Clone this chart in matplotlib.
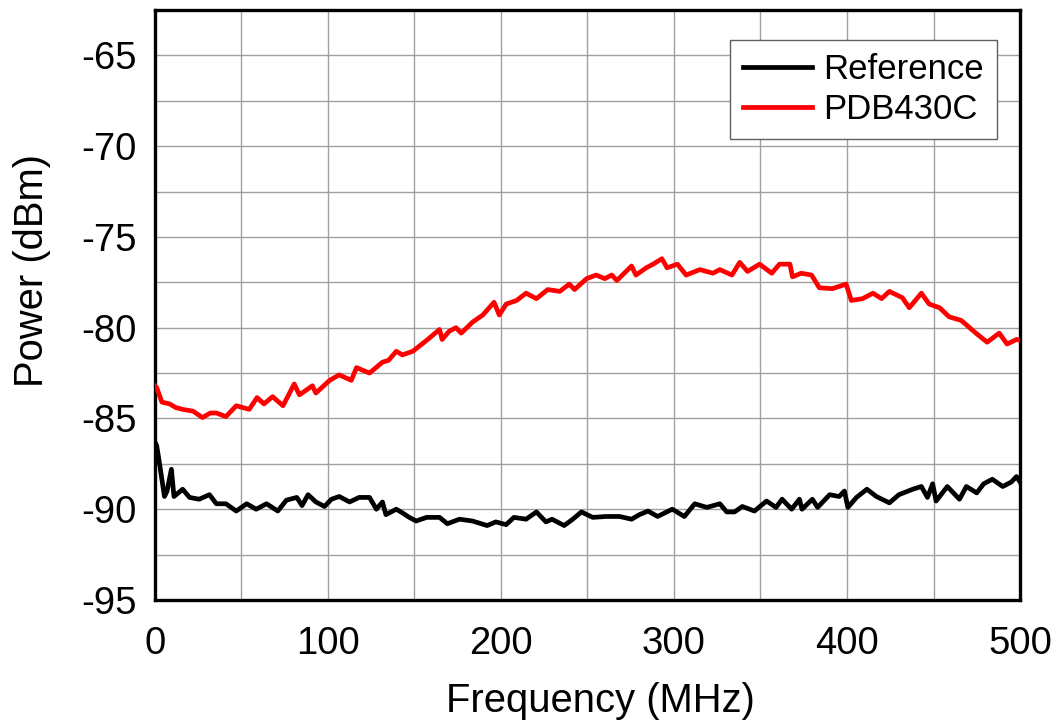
import matplotlib
matplotlib.use("Agg")
import matplotlib.pyplot as plt
from matplotlib.ticker import MultipleLocator

# Reference trace (MHz, dBm)
ref_freq = [0, 1, 2.5, 5.5, 7, 9.5, 11, 16, 20, 25.5, 31.5, 35.5, 41, 47, 53, 58.5,
            64.5, 71, 76, 82, 85, 88.5, 93, 98, 102, 106.5, 112.5, 118, 124, 128,
            131.5, 133.5, 139.5, 143, 147, 151, 157, 164.5, 169, 176, 183.5, 192,
            197, 203, 207.5, 214.5, 220.5, 226, 229.5, 236.5, 241.5, 246.5, 253,
            261, 268.5, 275.5, 280, 285, 290.5, 299, 306, 312, 319, 326.5, 330.5,
            335, 339.5, 346.5, 353.5, 359, 362.5, 368, 372.5, 374, 380, 383, 390,
            395.5, 398.5, 400.5, 405.5, 411.5, 417, 424.5, 430, 438, 443, 446.5,
            449.5, 451.5, 458, 465, 469, 475, 479, 484, 490, 495, 498, 500]
ref_power = [-86.3, -86.5, -87.4, -89.3, -89.0, -87.8, -89.3, -88.9, -89.35, -89.45,
             -89.2, -89.7, -89.7, -90.1, -89.7, -90.0, -89.7, -90.1, -89.5, -89.35,
             -89.8, -89.2, -89.6, -89.85, -89.45, -89.3, -89.6, -89.35, -89.35, -90.0,
             -89.6, -90.3, -90.0, -90.2, -90.45, -90.65, -90.45, -90.45, -90.8, -90.55,
             -90.65, -90.9, -90.7, -90.85, -90.45, -90.55, -90.15, -90.7, -90.55, -90.9,
             -90.55, -90.15, -90.45, -90.4, -90.4, -90.55, -90.3, -90.1, -90.4, -90.0,
             -90.4, -89.7, -89.9, -89.7, -90.15, -90.15, -89.85, -90.1, -89.55, -89.9,
             -89.45, -90.0, -89.45, -90.0, -89.45, -89.9, -89.2, -89.3, -89.0, -89.9,
             -89.35, -88.9, -89.3, -89.65, -89.2, -88.9, -88.75, -89.35, -88.6, -89.55,
             -88.75, -89.45, -88.75, -89.1, -88.6, -88.35, -88.75, -88.5, -88.2, -88.5]

# PDB430C trace
pdb_freq = [0, 1, 4, 8.5, 12, 16, 22, 27.5, 32, 35.5, 41, 47, 54.5, 59, 63, 68, 74,
            80.5, 83.5, 88, 91, 93, 101, 106.5, 113.5, 116.5, 124, 131.5, 135, 139.5,
            143, 149, 157, 164.5, 166, 170, 174, 177, 183.5, 189.5, 196, 199, 203,
            209, 214.5, 220.5, 227, 234, 239.5, 242.5, 249.5, 255, 260, 264, 267,
            275.5, 278, 284, 288, 293, 296, 302, 307, 315, 322.5, 326.5, 333.5, 338,
            342.5, 349.5, 356.5, 361, 367, 368.5, 373.5, 379.5, 384, 391.5, 399.5,
            402.5, 409, 415, 420, 424.5, 432, 436, 443, 447.5, 453.5, 459, 466,
            474.5, 481, 488, 492.5, 498, 500]
pdb_power = [-83.2, -83.3, -84.1, -84.2, -84.4, -84.5, -84.6, -84.95, -84.7, -84.7,
             -84.9, -84.3, -84.5, -83.85, -84.2, -83.8, -84.3, -83.1, -83.7, -83.4,
             -83.2, -83.6, -82.9, -82.6, -82.9, -82.2, -82.5, -81.9, -81.8, -81.3,
             -81.5, -81.3, -80.7, -80.1, -80.65, -80.2, -80.0, -80.3, -79.7, -79.3,
             -78.6, -79.3, -78.7, -78.5, -78.1, -78.4, -77.9, -78.0, -77.6, -77.9,
             -77.3, -77.1, -77.3, -77.1, -77.4, -76.6, -77.1, -76.7, -76.5, -76.2,
             -76.7, -76.5, -77.1, -76.8, -77.0, -76.8, -77.1, -76.4, -76.9, -76.5,
             -77.0, -76.5, -76.5, -77.2, -77.0, -77.1, -77.8, -77.85, -77.6, -78.5,
             -78.4, -78.1, -78.4, -78.0, -78.35, -78.9, -78.1, -78.7, -78.9, -79.4,
             -79.6, -80.3, -80.8, -80.3, -80.9, -80.65, -80.7]

plt.rcParams['font.family'] = ['Liberation Sans', 'DejaVu Sans']
plt.rcParams['axes.unicode_minus'] = False

fig = plt.figure(figsize=(10.57, 7.2), dpi=100)
ax = fig.add_axes([0.1466, 0.1667, 0.8184, 0.8194])

ax.plot(ref_freq, ref_power, color='black', lw=3.4, label='Reference', zorder=3)
ax.plot(pdb_freq, pdb_power, color='#ff0000', lw=3.4, label='PDB430C', zorder=3)

ax.set_xlim(0, 500)
ax.set_ylim(-95, -62.5)
ax.xaxis.set_major_locator(MultipleLocator(100))
ax.xaxis.set_minor_locator(MultipleLocator(50))
ax.yaxis.set_major_locator(MultipleLocator(5))
ax.yaxis.set_minor_locator(MultipleLocator(2.5))
ax.grid(True, which='both', color='#a0a0a0', lw=1.0)
ax.set_axisbelow(True)
ax.tick_params(which='both', length=0, labelsize=27.5)
ax.tick_params(axis='x', pad=19)
ax.tick_params(axis='y', pad=13)

for s in ax.spines.values():
    s.set_linewidth(2.4)

ax.set_xlabel('Frequency (MHz)', fontsize=28.8)
ax.set_ylabel('Power (dBm)', fontsize=28.8)
ax.xaxis.set_label_coords(0.5145, -0.139)
ax.yaxis.set_label_coords(-0.12, 0.558)

leg = ax.legend(loc='upper right', bbox_to_anchor=(0.973, 0.949), borderaxespad=0,
                fontsize=25, handlelength=2.0, fancybox=False, framealpha=1,
                edgecolor='#606060', borderpad=0.38, labelspacing=0.2,
                handletextpad=0.3)
leg.get_frame().set_linewidth(1.0)

fig.savefig('out.png', dpi=100)
